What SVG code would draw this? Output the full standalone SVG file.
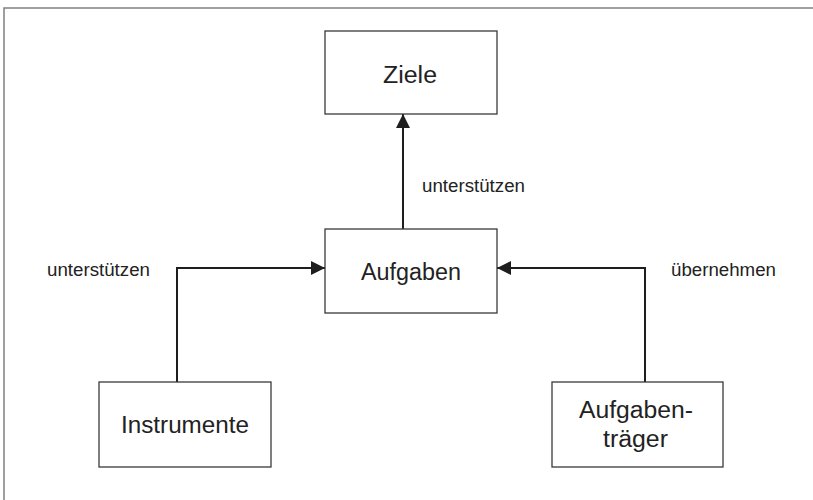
<svg xmlns="http://www.w3.org/2000/svg" width="813" height="500" viewBox="0 0 813 500">
  <style>
    .box { fill: #ffffff; stroke: #3a3a3a; stroke-width: 1.3; }
    .frame { fill: none; stroke: #808080; stroke-width: 1.5; }
    .conn { fill: none; stroke: #1e1e1e; stroke-width: 2; }
    .label { font-family: "Liberation Sans", Arial, sans-serif; fill: #222222; }
    .node { font-size: 23px; text-anchor: middle; }
    .edge { font-size: 17.5px; }
  </style>
  <defs>
    <marker id="arrow" viewBox="0 0 14 14" refX="14" refY="7" markerWidth="14" markerHeight="14" markerUnits="userSpaceOnUse" orient="auto">
      <path d="M0,0 L14,7 L0,14 Z" fill="#1e1e1e"/>
    </marker>
  </defs>

  <rect width="813" height="500" fill="#ffffff"/>
  <!-- outer frame: top and left edges only -->
  <path class="frame" d="M4,500 L4,8 L813,8"/>

  <g id="connectors">
    <path class="conn" d="M403,229 L403,114" marker-end="url(#arrow)"/>
    <path class="conn" d="M177,382 L177,268 L325,268" marker-end="url(#arrow)"/>
    <path class="conn" d="M645,382 L645,268 L497,268" marker-end="url(#arrow)"/>
    <text class="label edge" x="422" y="192" textLength="103" lengthAdjust="spacingAndGlyphs">unterstützen</text>
    <text class="label edge" x="47" y="276" textLength="103" lengthAdjust="spacingAndGlyphs">unterstützen</text>
    <text class="label edge" x="671" y="276" textLength="105" lengthAdjust="spacingAndGlyphs">übernehmen</text>
  </g>

  <g id="ziele">
    <rect class="box" x="325" y="31" width="172" height="83"/>
    <text class="label node" x="410" y="83" textLength="54" lengthAdjust="spacingAndGlyphs">Ziele</text>
  </g>

  <g id="aufgaben">
    <rect class="box" x="325" y="229" width="172" height="84"/>
    <text class="label node" x="411" y="280" textLength="100" lengthAdjust="spacingAndGlyphs">Aufgaben</text>
  </g>

  <g id="instrumente">
    <rect class="box" x="99" y="382" width="172" height="85"/>
    <text class="label node" x="185" y="433" textLength="128" lengthAdjust="spacingAndGlyphs">Instrumente</text>
  </g>

  <g id="aufgabentraeger">
    <rect class="box" x="552" y="382" width="171" height="85"/>
    <text class="label node" x="636" y="418" textLength="114" lengthAdjust="spacingAndGlyphs">Aufgaben-</text>
    <text class="label node" x="635.5" y="447" textLength="65" lengthAdjust="spacingAndGlyphs">träger</text>
  </g>
</svg>
